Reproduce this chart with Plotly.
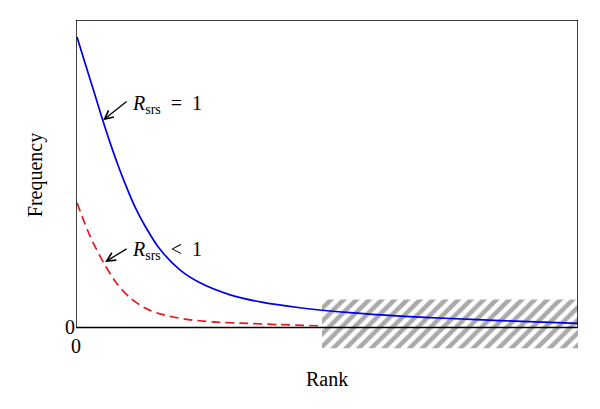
import plotly.graph_objects as go

# curve samples (rank in % of box width, frequency in % of box height)
rank_full = [0.2, 1.8, 3.4, 5.0, 6.6, 8.2, 9.8, 11.75, 13.75, 16.7, 20.7, 24.7, 30.7, 36.7, 44.6, 54.6, 64.5, 74.5, 84.5, 100]
freq_full = [94.5, 86.0, 77.6, 69.1, 61.0, 53.5, 46.7, 39.2, 33.0, 25.5, 18.7, 14.5, 10.6, 8.3, 6.4, 4.8, 3.7, 2.9, 2.2, 1.3]

rank_less = [0.2, 2.8, 5.4, 8.2, 10.8, 13.75, 16.7, 21.7, 27.3, 34.1, 40.6, 49.0]
freq_less = [40.5, 29.7, 21.3, 14.1, 9.6, 6.3, 4.4, 2.7, 1.8, 1.3, 0.9, 0.5]

# truncated (hatched) region
hatch_x = [49, 100, 100, 49, 49]
hatch_y = [-6.8, -6.8, 9.1, 9.1, -6.8]

font = "Liberation Serif"

fig = go.Figure()

fig.add_trace(go.Scatter(
    x=hatch_x, y=hatch_y,
    mode='lines', line=dict(width=0),
    fill='toself', fillcolor='rgba(0,0,0,0)',
    fillpattern=dict(shape='/', fgcolor='#555555', bgcolor='white', size=9, solidity=0.5),
    hoverinfo='skip', showlegend=False,
))
fig.add_trace(go.Scatter(
    x=rank_less, y=freq_less, mode='lines',
    line=dict(color='#e41a1c', width=1.7, dash='9px,5px', shape='spline', smoothing=0.8),
    showlegend=False,
))
fig.add_trace(go.Scatter(
    x=rank_full, y=freq_full, mode='lines',
    line=dict(color='#0000e6', width=1.7, shape='spline', smoothing=0.8),
    showlegend=False,
))

# plot box
fig.add_shape(type='rect', x0=0, x1=100, y0=0, y1=100, xref='x', yref='y',
              line=dict(color='black', width=1.5), layer='above')

# arrows
arrow = dict(text='', showarrow=True, arrowhead=5, arrowsize=1.3, arrowwidth=1.3,
             arrowcolor='black', xref='x', yref='y')
fig.add_annotation(x=5.4, y=67.4, ax=25, ay=-20, **arrow)
fig.add_annotation(x=5.8, y=21.3, ax=23, ay=-14, **arrow)

txt = dict(showarrow=False, xref='x', yref='y', xanchor='left', yanchor='middle',
           font=dict(family=font, size=20, color='black'))
fig.add_annotation(x=10.8, y=72.6, text='<i>R</i><sub>srs</sub>  =  1', **txt)
fig.add_annotation(x=10.8, y=25.1, text='<i>R</i><sub>srs</sub>  &lt;  1', **txt)

# x tick "0" and axis titles
fig.add_annotation(x=0, y=0, xref='x', yref='y', text='0', showarrow=False,
                   yanchor='top', yshift=-6, font=dict(family=font, size=20, color='black'))
fig.add_annotation(x=50, y=-0.08, xref='x', yref='paper', text='Rank', showarrow=False,
                   xanchor='center', yanchor='middle', font=dict(family=font, size=20, color='black'))
fig.add_annotation(x=-0.0817, y=49.5, xref='paper', yref='y', text='Frequency', showarrow=False,
                   xanchor='center', yanchor='middle', textangle=-90,
                   font=dict(family=font, size=20, color='black'))

fig.update_xaxes(range=[0, 100], showgrid=False, zeroline=False, showline=False,
                 showticklabels=False, ticks='')
fig.update_yaxes(range=[-8, 100], showgrid=False, zeroline=False, showline=False,
                 tickvals=[0], ticktext=['0'], ticks='',
                 tickfont=dict(family=font, size=20, color='black'))
# page body adds an 8px offset, so margins are shifted to compensate
fig.update_layout(width=600, height=409,
                  margin=dict(l=68, r=30, t=12, b=65),
                  paper_bgcolor='white', plot_bgcolor='white',
                  font_family=font)

fig.write_html("out.html")
